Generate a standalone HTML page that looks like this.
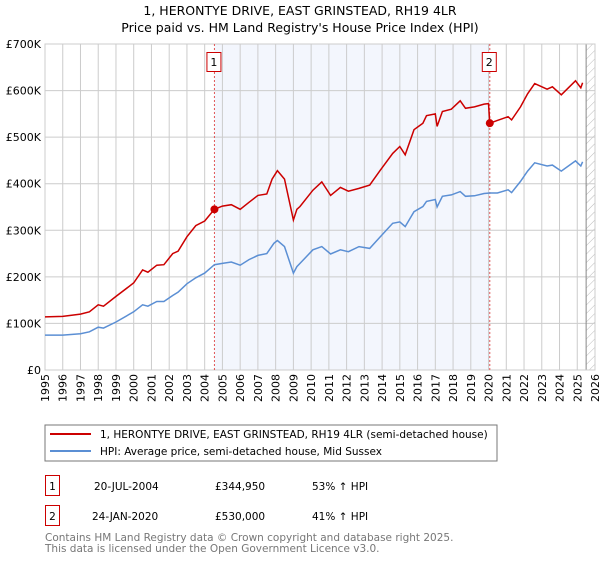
<!DOCTYPE html>
<html><head><meta charset="utf-8"><style>
body{margin:0;background:#fff;font-family:"DejaVu Sans","Liberation Sans",sans-serif;}
svg text{font-family:"DejaVu Sans","Liberation Sans",sans-serif;}
</style></head><body>
<svg id="chart" width="600" height="560" xmlns="http://www.w3.org/2000/svg">
<defs><pattern id="hatch" width="6" height="6" patternUnits="userSpaceOnUse" patternTransform="rotate(45)"><line x1="0" y1="0" x2="0" y2="6" stroke="#bbb" stroke-width="1"/></pattern></defs>
<text x="300" y="15" text-anchor="middle" font-size="12.5" fill="#000">1, HERONTYE DRIVE, EAST GRINSTEAD, RH19 4LR</text>
<text x="300" y="32" text-anchor="middle" font-size="12.5" fill="#000">Price paid vs. HM Land Registry's House Price Index (HPI)</text>
<g id="plot"></g>
<rect x="45" y="425" width="452" height="36" fill="#fff" stroke="#777" stroke-width="1"/>
<line x1="50" y1="434" x2="91" y2="434" stroke="#cc0000" stroke-width="2"/>
<text x="100" y="438" font-size="10.5">1, HERONTYE DRIVE, EAST GRINSTEAD, RH19 4LR (semi-detached house)</text>
<line x1="50" y1="451" x2="91" y2="451" stroke="#5b8fd4" stroke-width="2"/>
<text x="100" y="455" font-size="10.5">HPI: Average price, semi-detached house, Mid Sussex</text>
<rect x="45.5" y="475.5" width="14" height="20" fill="none" stroke="#cc0000"/>
<text x="52.5" y="490" text-anchor="middle" font-size="10.5">1</text>
<text x="94" y="490" font-size="10.5">20-JUL-2004</text>
<text x="215" y="490" font-size="10.5">£344,950</text>
<text x="312" y="490" font-size="10.5">53% ↑ HPI</text>
<rect x="45.5" y="505.5" width="14" height="20" fill="none" stroke="#cc0000"/>
<text x="52.5" y="520" text-anchor="middle" font-size="10.5">2</text>
<text x="92" y="520" font-size="10.5">24-JAN-2020</text>
<text x="215" y="520" font-size="10.5">£530,000</text>
<text x="312" y="520" font-size="10.5">41% ↑ HPI</text>
<text x="45" y="541" font-size="10.5" fill="#777">Contains HM Land Registry data © Crown copyright and database right 2025.</text>
<text x="45" y="552" font-size="10.5" fill="#777">This data is licensed under the Open Government Licence v3.0.</text>
</svg>
<script>
const yearTicks=[1995,1996,1997,1998,1999,2000,2001,2002,2003,2004,2005,2006,2007,2008,2009,2010,2011,2012,2013,2014,2015,2016,2017,2018,2019,2020,2021,2022,2023,2024,2025,2026];
const valueTicks=[0,100,200,300,400,500,600,700];
const valueTickLabels=["£0","£100K","£200K","£300K","£400K","£500K","£600K","£700K"];
const priceYears=[1995,1996,1997,1997.5,1998,1998.3,1999,2000,2000.5,2000.8,2001.3,2001.7,2002.2,2002.5,2003,2003.5,2004,2004.55,2005,2005.5,2006,2006.5,2007,2007.5,2007.8,2008.1,2008.5,2009,2009.2,2009.37,2010.1,2010.6,2011.1,2011.65,2012.1,2012.7,2013.3,2013.9,2014.6,2015,2015.3,2015.8,2016.3,2016.5,2017,2017.1,2017.4,2017.9,2018.4,2018.7,2019.2,2019.75,2020.0,2020.07,2020.5,2021.1,2021.3,2021.8,2022.2,2022.6,2023.3,2023.6,2024.1,2024.9,2025.2,2025.3];
const priceValues=[114,115,120,125,140,137,158,187,215,210,225,226,250,255,286,310,320,345,352,355,345,360,375,378,410,428,410,322,345,351,386,404,375,392,384,390,397,429,465,480,462,516,530,546,550,523,555,560,578,562,565,571,572,530,536,544,537,565,593,615,603,608,591,621,606,617];
const hpiYears=[1995,1996,1997,1997.5,1998,1998.3,1999,2000,2000.5,2000.8,2001.3,2001.7,2002.2,2002.5,2003,2003.5,2004,2004.55,2005,2005.5,2006,2006.5,2007,2007.5,2007.9,2008.1,2008.5,2009,2009.2,2009.37,2010.1,2010.6,2011.1,2011.65,2012.1,2012.7,2013.3,2013.9,2014.6,2015,2015.3,2015.8,2016.3,2016.5,2017,2017.1,2017.4,2017.9,2018.4,2018.7,2019.2,2019.75,2020.07,2020.5,2021.1,2021.3,2021.8,2022.2,2022.6,2023.3,2023.6,2024.1,2024.9,2025.2,2025.3];
const hpiValues=[75,75,78,82,92,90,103,125,140,137,147,147,160,167,185,198,208,226,229,232,225,237,246,250,272,278,265,208,222,229,258,265,249,258,254,265,261,286,315,318,308,340,351,362,366,350,373,376,383,373,374,379,380,380,387,381,405,427,445,438,440,427,449,438,447];
const saleYears=[2004.55,2020.07];
const saleValues=[344.95,530];
const saleLabels=["1","2"];
const X0=45,X1=595,Y0=370,Y1=44;
const xs=y=>X0+(y-1995)/(2026-1995)*(X1-X0);
const ys=v=>Y0-v/700*(Y0-Y1);
const NS="http://www.w3.org/2000/svg";
const plot=document.getElementById('plot');
function mk(tag,attrs){const e=document.createElementNS(NS,tag);for(const k in attrs)e.setAttribute(k,attrs[k]);plot.appendChild(e);return e;}
let e=mk('rect',{x:xs(saleYears[0]),y:Y1,width:xs(saleYears[1])-xs(saleYears[0]),height:Y0-Y1,fill:'#f0f4fd',opacity:0.8});


e=mk('rect',{x:xs(2025.5),y:Y1,width:X1-xs(2025.5),height:Y0-Y1,fill:'url(#hatch)'});


yearTicks.forEach(t=>{
 let g=mk('line',{x1:xs(t),x2:xs(t),y1:Y1,y2:Y0,stroke:'#ccc','stroke-width':1});
 
 
 let tx=mk('text',{x:0,y:0,'font-size':11,'text-anchor':'end',transform:`translate(${xs(t)+4},${Y0+4}) rotate(-90)`});
 tx.textContent=t;
 
 
});
valueTicks.forEach((v,i)=>{
 let g=mk('line',{x1:X0,x2:X1,y1:ys(v),y2:ys(v),stroke:'#ccc','stroke-width':1});
 
 
 let tx=mk('text',{x:X0-4,y:ys(v)+4,'font-size':11,'text-anchor':'end'});
 tx.textContent=valueTickLabels[i];
 
 
});
e=mk('line',{x1:xs(2025.5),x2:xs(2025.5),y1:Y1,y2:Y0,stroke:'#888','stroke-width':1});


e=mk('rect',{x:X0,y:Y1,width:X1-X0,height:Y0-Y1,fill:'none',stroke:'#ccc'});


saleYears.forEach((sy,i)=>{
 let l=mk('line',{x1:xs(sy),x2:xs(sy),y1:Y1,y2:Y0,stroke:'#e05555','stroke-width':1,'stroke-dasharray':'2,2'});
 
 
 let r=mk('rect',{x:xs(sy)-7.5,y:52.5,width:14,height:19,fill:'#fff',stroke:'#cc0000'});
 
 
 let t=mk('text',{x:xs(sy)-0.5,y:66,'font-size':11,'text-anchor':'middle'});
 t.textContent=saleLabels[i];
 
 
});
function path(xa,va){return xa.map((x,i)=>(i?'L':'M')+xs(x).toFixed(1)+','+ys(va[i]).toFixed(1)).join('');}
e=mk('path',{d:path(hpiYears,hpiValues),fill:'none',stroke:'#5b8fd4','stroke-width':1.5});


e=mk('path',{d:path(priceYears,priceValues),fill:'none',stroke:'#cc0000','stroke-width':1.5});


saleYears.forEach((sy,i)=>{
 let c=mk('circle',{cx:xs(sy),cy:ys(saleValues[i]),r:4,fill:'#cc0000'});
 
 
});
</script>
</body></html>
